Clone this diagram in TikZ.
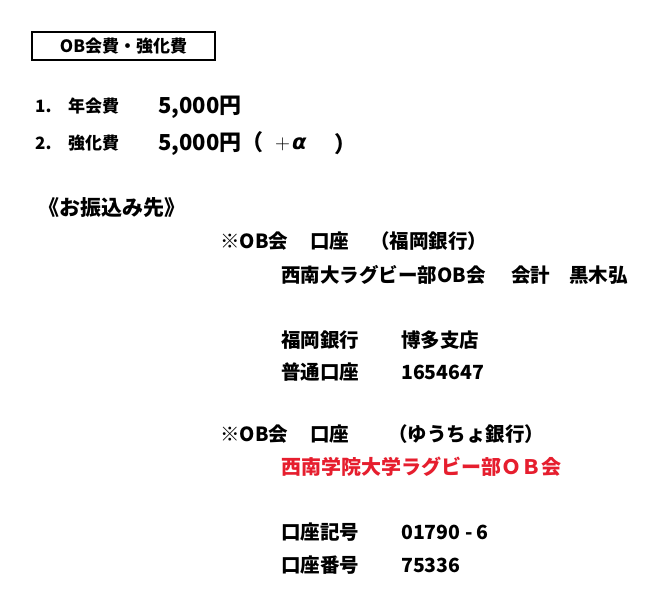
\documentclass[tikz,border=0pt]{standalone}
\usepackage{fontspec}
\newfontfamily\jp{Noto Sans CJK JP}
\newfontfamily\dvs{DejaVu Sans}
\definecolor{obred}{RGB}{230,30,46}
\begin{document}
\begin{tikzpicture}[x=1pt,y=-1pt,
  t/.style={anchor=west,inner sep=0pt,font=\jp\bfseries\fontsize{19.5}{22}\selectfont},
  ts/.style={anchor=west,inner sep=0pt,font=\jp\bfseries\fontsize{17}{20}\selectfont},
  tb/.style={anchor=west,inner sep=0pt,font=\jp\bfseries\fontsize{22}{24}\selectfont},
  th/.style={anchor=west,inner sep=0pt,font=\jp\bfseries\fontsize{21}{24}\selectfont}]
\useasboundingbox[fill=white] (0,0) rectangle (660,604);
% title box
\node[draw,line width=1.3pt,minimum width=183pt,minimum height=28pt,inner sep=0pt,
  font=\jp\bfseries\fontsize{17}{20}\selectfont] (title) at (123.5,46) {OB会費・強化費};
% fee rows
\node[ts] (n1) at (35,106) {1.};
\node[ts] (k1) at (68,106) {年会費};
\node[tb] (v1) at (158,107) {5,000円};
\node[ts] (n2) at (35,143) {2.};
\node[ts] (k2) at (68,143) {強化費};
\node[tb] (v2) at (158,144) {5,000円（};
\node[tb] (plusnode) at (275,144) {$+$};
\node[tb,font=\dvs\bfseries\itshape\fontsize{21}{24}\selectfont] (alphanode) at (292,144) {α};
\node[tb] (closenode) at (334,144) {）};
% heading
\node[th] (head) at (38,208) {《お振込み先》};
% account 1
\node[t] (a1) at (220,241) {※OB会};
\node[t] (a1k) at (310,241) {口座};
\node[t] (a1b) at (370,241) {（福岡銀行）};
\node[t] (a1n) at (281,275) {西南大ラグビー部OB会};
\node[t] (a1c) at (511,275) {会計};
\node[t] (a1p) at (569,275) {黒木弘};
\node[t] (a1l1) at (281,340) {福岡銀行};
\node[t] (a1v1) at (401,340) {博多支店};
\node[t] (a1l2) at (281,372) {普通口座};
\node[t] (a1v2) at (401,372) {1654647};
% account 2
\node[t] (a2) at (220,434) {※OB会};
\node[t] (a2k) at (310,434) {口座};
\node[t] (a2b) at (388,434) {（ゆうちょ銀行）};
\node[t,text=obred,font=\jp\bfseries\fontsize{20}{22}\selectfont] (a2n) at (281,467) {西南学院大学ラグビー部ＯＢ会};
\node[t] (a2l1) at (281,532) {口座記号};
\node[t] (a2v1) at (401,532) {01790 - 6};
\node[t] (a2l2) at (281,565) {口座番号};
\node[t] (a2v2) at (401,565) {75336};
\end{tikzpicture}
\end{document}
